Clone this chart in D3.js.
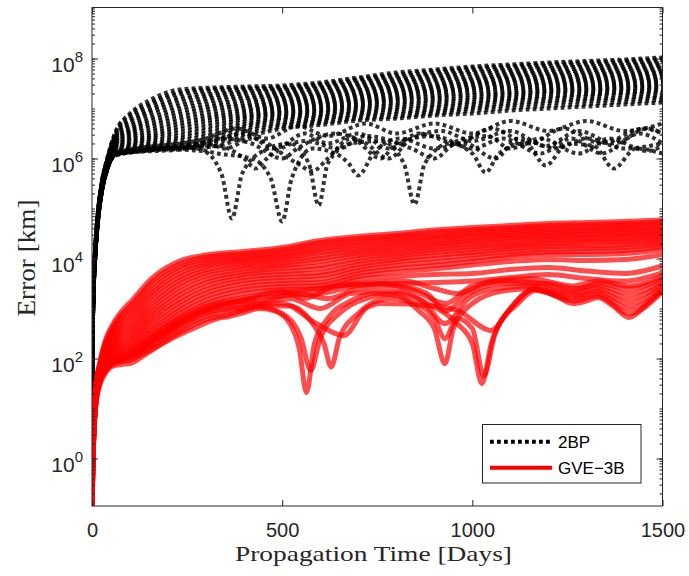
<!DOCTYPE html>
<html>
<head>
<meta charset="utf-8">
<script src="https://cdn.jsdelivr.net/npm/d3@7"></script>
<style>
body { margin: 0; background: #fff; }
</style>
</head>
<body>
<div class="holder"></div>
<script>
// every error value below is log10(error in km)

// 2BP: smooth curves sampled on a shared day grid
const bpDays = [0, 2, 5, 9, 15, 26, 40, 60, 100, 150, 230, 320, 410, 500, 600, 700, 800, 900, 1000, 1100, 1200, 1300, 1400, 1500]
const bp1   = [0.85, 2.7, 3.7, 4.3, 4.9, 5.55, 6.0, 6.5, 6.9, 7.16, 7.38, 7.42, 7.44, 7.46, 7.52, 7.62, 7.72, 7.78, 7.84, 7.88, 7.92, 7.95, 7.98, 8.02]
const bp1b  = [0.85, 2.69, 3.69, 4.29, 4.89, 5.54, 5.99, 6.48, 6.86, 7.1, 7.33, 7.39, 7.41, 7.43, 7.49, 7.59, 7.68, 7.75, 7.81, 7.85, 7.89, 7.92, 7.95, 7.99]
const bp2   = [0.85, 2.68, 3.68, 4.28, 4.88, 5.53, 5.98, 6.45, 6.8, 7.06, 7.29, 7.35, 7.38, 7.4, 7.46, 7.56, 7.64, 7.71, 7.77, 7.81, 7.85, 7.88, 7.91, 7.95]
const bp2b  = [0.85, 2.67, 3.67, 4.27, 4.87, 5.52, 5.97, 6.42, 6.75, 7.0, 7.23, 7.3, 7.34, 7.37, 7.42, 7.52, 7.6, 7.67, 7.73, 7.77, 7.81, 7.84, 7.87, 7.91]
const bp3   = [0.85, 2.66, 3.66, 4.26, 4.86, 5.51, 5.96, 6.4, 6.7, 6.95, 7.18, 7.26, 7.3, 7.33, 7.39, 7.48, 7.56, 7.63, 7.69, 7.73, 7.77, 7.8, 7.83, 7.87]
const bp3b  = [0.85, 2.65, 3.65, 4.25, 4.85, 5.5, 5.95, 6.37, 6.65, 6.9, 7.12, 7.21, 7.25, 7.29, 7.35, 7.44, 7.52, 7.59, 7.64, 7.69, 7.73, 7.76, 7.79, 7.83]
const bp4   = [0.85, 2.64, 3.64, 4.24, 4.84, 5.49, 5.94, 6.35, 6.6, 6.84, 7.06, 7.16, 7.21, 7.25, 7.31, 7.4, 7.48, 7.55, 7.6, 7.65, 7.69, 7.72, 7.75, 7.79]
const bp4b  = [0.85, 2.63, 3.63, 4.23, 4.83, 5.48, 5.93, 6.32, 6.56, 6.78, 7.0, 7.1, 7.16, 7.21, 7.27, 7.36, 7.44, 7.5, 7.56, 7.61, 7.65, 7.68, 7.71, 7.75]
const bp5   = [0.85, 2.62, 3.62, 4.22, 4.82, 5.47, 5.92, 6.3, 6.52, 6.73, 6.94, 7.05, 7.11, 7.17, 7.23, 7.32, 7.4, 7.46, 7.52, 7.57, 7.61, 7.64, 7.67, 7.71]
const bp5b  = [0.85, 2.61, 3.61, 4.21, 4.81, 5.46, 5.91, 6.28, 6.48, 6.67, 6.88, 7.0, 7.06, 7.13, 7.19, 7.28, 7.36, 7.42, 7.48, 7.53, 7.57, 7.6, 7.63, 7.67]
const bp6   = [0.85, 2.6, 3.6, 4.2, 4.8, 5.45, 5.9, 6.26, 6.44, 6.62, 6.82, 6.94, 7.02, 7.09, 7.15, 7.24, 7.32, 7.38, 7.44, 7.49, 7.53, 7.56, 7.59, 7.63]
const bp6b  = [0.85, 2.59, 3.59, 4.19, 4.79, 5.44, 5.89, 6.24, 6.4, 6.56, 6.76, 6.88, 6.97, 7.05, 7.11, 7.2, 7.28, 7.34, 7.4, 7.44, 7.49, 7.52, 7.55, 7.59]
const bp7   = [0.85, 2.58, 3.58, 4.18, 4.78, 5.43, 5.88, 6.22, 6.37, 6.51, 6.7, 6.83, 6.93, 7.01, 7.07, 7.16, 7.24, 7.3, 7.36, 7.4, 7.45, 7.48, 7.51, 7.55]
const bp7b  = [0.85, 2.57, 3.57, 4.17, 4.77, 5.42, 5.87, 6.2, 6.33, 6.46, 6.64, 6.78, 6.88, 6.97, 7.03, 7.12, 7.2, 7.25, 7.31, 7.35, 7.41, 7.44, 7.47, 7.51]
const bp8   = [0.85, 2.56, 3.56, 4.16, 4.76, 5.41, 5.86, 6.18, 6.3, 6.42, 6.58, 6.72, 6.84, 6.93, 6.99, 7.08, 7.16, 7.21, 7.27, 7.31, 7.37, 7.4, 7.43, 7.47]
const bp8b  = [0.85, 2.55, 3.55, 4.15, 4.75, 5.4, 5.85, 6.16, 6.27, 6.38, 6.52, 6.66, 6.8, 6.89, 6.95, 7.04, 7.11, 7.16, 7.22, 7.27, 7.33, 7.36, 7.39, 7.43]
const bp9   = [0.85, 2.54, 3.54, 4.14, 4.74, 5.39, 5.84, 6.15, 6.24, 6.34, 6.46, 6.6, 6.75, 6.85, 6.91, 7.0, 7.07, 7.12, 7.18, 7.23, 7.29, 7.32, 7.35, 7.39]
const bp9b  = [0.85, 2.53, 3.53, 4.13, 4.73, 5.38, 5.83, 6.13, 6.21, 6.3, 6.41, 6.54, 6.7, 6.81, 6.87, 6.96, 7.02, 7.07, 7.13, 7.19, 7.24, 7.28, 7.31, 7.35]
const bp10  = [0.85, 2.52, 3.52, 4.12, 4.72, 5.37, 5.82, 6.12, 6.19, 6.27, 6.36, 6.48, 6.66, 6.77, 6.83, 6.92, 6.98, 7.03, 7.09, 7.15, 7.2, 7.24, 7.27, 7.31]
const bp10b = [0.85, 2.51, 3.51, 4.11, 4.71, 5.36, 5.81, 6.1, 6.17, 6.24, 6.31, 6.42, 6.61, 6.72, 6.79, 6.88, 6.93, 6.98, 7.04, 7.1, 7.15, 7.19, 7.22, 7.26]
const bp11  = [0.85, 2.5, 3.5, 4.1, 4.7, 5.35, 5.8, 6.09, 6.15, 6.21, 6.27, 6.36, 6.56, 6.68, 6.75, 6.84, 6.89, 6.94, 7.0, 7.06, 7.11, 7.15, 7.18, 7.22]
const bp11b = [0.85, 2.49, 3.49, 4.09, 4.69, 5.34, 5.79, 6.07, 6.13, 6.18, 6.23, 6.3, 6.5, 6.64, 6.71, 6.8, 6.84, 6.9, 6.95, 7.01, 7.05, 7.09, 7.13, 7.17]
const bp12  = [0.85, 2.48, 3.48, 4.08, 4.68, 5.33, 5.78, 6.06, 6.12, 6.16, 6.2, 6.24, 6.44, 6.6, 6.67, 6.76, 6.8, 6.86, 6.9, 6.96, 7.0, 7.04, 7.08, 7.12]

// 2BP: lower curves with dips, [day, log10 km]
const bpK1 = [[0,0.85],[2,2.5],[5,3.5],[9,4.1],[15,4.7],[26,5.35],[40,5.78],[60,6.05],[100,6.12],[200,6.18],[290,6.15],[340,5.7],[368,4.8],[395,5.7],[450,6.15],[520,6.3],[570,5.9],[596,5.06],[620,5.9],[680,6.3],[760,6.35],[820,5.9],[848,5.08],[875,5.9],[940,6.3],[1000,6.1],[1035,5.72],[1070,6.1],[1140,6.3],[1193,5.86],[1250,6.3],[1320,6.25],[1372,5.8],[1430,6.2],[1500,6.1]]
const bpK2 = [[0,0.85],[2,2.5],[5,3.5],[9,4.1],[15,4.7],[26,5.35],[40,5.78],[60,6.07],[150,6.2],[250,6.22],[330,6.1],[420,6.0],[470,5.6],[500,4.74],[525,5.6],[580,6.2],[640,6.1],[675,5.9],[700,5.66],[740,6.1],[810,6.4],[900,6.2],[980,6.3],[1060,6.0],[1120,6.4],[1220,6.2],[1300,6.4],[1400,6.2],[1500,6.3]]
const bpK3 = [[0,0.85],[2,2.5],[5,3.5],[9,4.1],[15,4.7],[26,5.35],[40,5.78],[60,6.08],[200,6.22],[300,6.3],[350,6.2],[420,6.4],[540,5.9],[580,5.75],[620,6.0],[680,6.4],[760,6.0],[800,6.3],[900,6.45],[1000,6.2],[1080,6.4],[1180,6.1],[1260,6.4],[1340,6.1],[1440,6.5],[1500,6.3]]
const bpK4 = [[0,0.85],[2,2.5],[5,3.5],[9,4.1],[15,4.7],[26,5.35],[40,5.78],[60,6.09],[250,6.25],[320,6.35],[400,6.5],[480,6.2],[560,6.5],[620,6.3],[700,6.5],[780,6.2],[860,6.5],[960,6.3],[1050,6.6],[1150,6.3],[1240,6.6],[1340,6.3],[1450,6.6],[1500,6.5]]
const bpK5 = [[0,0.85],[2,2.5],[5,3.5],[9,4.1],[15,4.7],[26,5.35],[40,5.78],[60,6.1],[300,6.4],[380,6.6],[460,6.4],[540,6.65],[620,6.45],[720,6.7],[800,6.5],[900,6.7],[1000,6.5],[1100,6.75],[1200,6.55],[1300,6.75],[1400,6.55],[1500,6.7]]
const bpK6 = [[0,0.85],[2,2.5],[5,3.5],[9,4.1],[15,4.7],[26,5.35],[40,5.78],[60,6.08],[200,6.2],[330,6.25],[400,6.0],[430,5.8],[460,6.0],[560,6.35],[650,6.2],[720,6.45],[840,6.2],[900,6.0],[960,6.35],[1040,6.45],[1100,6.2],[1180,6.4],[1280,6.1],[1360,6.4],[1460,6.15],[1500,6.25]]
const bpK7 = [[0,0.85],[2,2.5],[5,3.5],[9,4.1],[15,4.7],[26,5.35],[40,5.78],[60,6.09],[250,6.2],[340,6.4],[420,6.3],[500,6.0],[540,6.2],[640,6.5],[720,6.3],[780,6.0],[840,6.4],[920,6.55],[1000,6.35],[1100,6.55],[1193,6.25],[1280,6.55],[1372,6.3],[1460,6.6],[1500,6.5]]

// GVE-3B: smooth curves sampled on a shared day grid
const gveDays = [0, 2, 5, 10, 20, 35, 50, 75, 100, 160, 230, 300, 400, 500, 600, 700, 800, 900, 1000, 1100, 1200, 1300, 1400, 1500]
const gve1   = [-1.2, 0.3, 1.0, 1.5, 1.9, 2.36, 2.62, 2.92, 3.12, 3.62, 3.95, 4.07, 4.14, 4.22, 4.36, 4.44, 4.5, 4.57, 4.62, 4.66, 4.7, 4.72, 4.74, 4.77]
const gve1b  = [-1.2, 0.28, 0.98, 1.48, 1.88, 2.32, 2.57, 2.86, 3.05, 3.55, 3.89, 4.03, 4.1, 4.18, 4.32, 4.4, 4.46, 4.53, 4.58, 4.62, 4.66, 4.68, 4.7, 4.73]
const gve2   = [-1.2, 0.25, 0.95, 1.46, 1.86, 2.28, 2.52, 2.8, 2.98, 3.48, 3.83, 3.98, 4.06, 4.13, 4.27, 4.35, 4.42, 4.48, 4.54, 4.58, 4.62, 4.64, 4.66, 4.69]
const gve2b  = [-1.2, 0.22, 0.92, 1.44, 1.84, 2.24, 2.47, 2.74, 2.91, 3.4, 3.77, 3.93, 4.02, 4.09, 4.22, 4.31, 4.38, 4.44, 4.5, 4.54, 4.58, 4.6, 4.62, 4.65]
const gve3   = [-1.2, 0.2, 0.9, 1.42, 1.82, 2.2, 2.42, 2.68, 2.84, 3.33, 3.7, 3.88, 3.98, 4.04, 4.17, 4.26, 4.33, 4.4, 4.46, 4.5, 4.54, 4.56, 4.58, 4.61]
const gve3b  = [-1.2, 0.18, 0.88, 1.4, 1.8, 2.16, 2.37, 2.62, 2.77, 3.26, 3.63, 3.83, 3.94, 4.0, 4.12, 4.21, 4.29, 4.36, 4.42, 4.46, 4.5, 4.52, 4.54, 4.57]
const gve4   = [-1.2, 0.15, 0.85, 1.38, 1.78, 2.12, 2.32, 2.56, 2.7, 3.18, 3.56, 3.77, 3.89, 3.95, 4.06, 4.16, 4.24, 4.31, 4.37, 4.42, 4.46, 4.48, 4.5, 4.53]
const gve4b  = [-1.2, 0.12, 0.82, 1.36, 1.76, 2.08, 2.27, 2.5, 2.63, 3.1, 3.49, 3.71, 3.84, 3.9, 4.0, 4.11, 4.19, 4.27, 4.33, 4.38, 4.42, 4.44, 4.46, 4.49]
const gve5   = [-1.2, 0.1, 0.8, 1.34, 1.74, 2.05, 2.23, 2.45, 2.57, 3.03, 3.42, 3.65, 3.79, 3.85, 3.94, 4.06, 4.14, 4.22, 4.28, 4.33, 4.38, 4.4, 4.42, 4.45]
const gve5b  = [-1.2, 0.08, 0.78, 1.32, 1.72, 2.01, 2.19, 2.39, 2.51, 2.95, 3.34, 3.58, 3.73, 3.8, 3.86, 4.0, 4.09, 4.17, 4.23, 4.28, 4.33, 4.35, 4.37, 4.41]
const gve6   = [-1.2, 0.05, 0.75, 1.3, 1.7, 1.98, 2.15, 2.34, 2.45, 2.88, 3.27, 3.52, 3.68, 3.74, 3.8, 3.94, 4.04, 4.12, 4.18, 4.24, 4.29, 4.31, 4.33, 4.37]
const gve6b  = [-1.2, 0.02, 0.72, 1.28, 1.68, 1.95, 2.11, 2.29, 2.39, 2.81, 3.19, 3.45, 3.62, 3.68, 3.72, 3.88, 3.98, 4.06, 4.12, 4.19, 4.24, 4.25, 4.27, 4.32]
const gve7   = [-1.2, 0.0, 0.7, 1.26, 1.66, 1.92, 2.07, 2.24, 2.34, 2.74, 3.12, 3.38, 3.56, 3.62, 3.66, 3.82, 3.93, 4.0, 4.07, 4.14, 4.19, 4.2, 4.22, 4.28]
const gve7b  = [-1.2, -0.02, 0.68, 1.24, 1.64, 1.9, 2.03, 2.19, 2.29, 2.67, 3.04, 3.31, 3.5, 3.56, 3.59, 3.76, 3.86, 3.93, 4.0, 4.08, 4.13, 4.14, 4.16, 4.23]
const gve8   = [-1.2, -0.05, 0.65, 1.22, 1.62, 1.87, 2.0, 2.15, 2.24, 2.6, 2.97, 3.24, 3.43, 3.5, 3.52, 3.7, 3.8, 3.86, 3.94, 4.03, 4.08, 4.08, 4.1, 4.18]
const gve8b  = [-1.2, -0.07, 0.62, 1.2, 1.6, 1.85, 1.97, 2.11, 2.19, 2.54, 2.9, 3.17, 3.37, 3.44, 3.46, 3.64, 3.73, 3.79, 3.87, 3.94, 3.98, 3.96, 3.98, 4.08]
const gve9   = [-1.2, -0.1, 0.6, 1.18, 1.58, 1.82, 1.94, 2.07, 2.14, 2.47, 2.83, 3.1, 3.3, 3.38, 3.4, 3.58, 3.64, 3.68, 3.7, 3.78, 3.82, 3.75, 3.7, 3.85]
const gve10  = [-1.2, -0.15, 0.55, 1.14, 1.54, 1.78, 1.89, 1.99, 2.05, 2.35, 2.7, 2.97, 3.17, 3.26, 3.3, 3.46, 3.5, 3.52, 3.55, 3.62, 3.68, 3.6, 3.55, 3.72]

// GVE-3B: lower curves with dips, [day, log10 km]
const gveD1 = [[0,-1.2],[2,-0.3],[5,0.45],[10,1.05],[20,1.45],[35,1.7],[50,1.83],[75,1.88],[100,1.9],[140,2.08],[200,2.36],[272,2.62],[330,2.8],[360,2.84],[400,2.92],[440,3.0],[480,2.95],[520,2.7],[545,2.2],[564,1.32],[585,2.3],[620,2.8],[680,3.15],[740,3.3],[803,3.26],[860,2.95],[900,2.6],[928,1.9],[950,2.6],[1000,3.1],[1080,3.35],[1162,3.4],[1220,3.25],[1265,3.1],[1300,3.15],[1330,3.22],[1370,3.05],[1412,2.82],[1460,3.1],[1500,3.36]]
const gveD2 = [[0,-1.2],[2,-0.25],[5,0.5],[10,1.08],[20,1.5],[35,1.74],[50,1.86],[75,1.93],[100,1.97],[160,2.2],[230,2.52],[300,2.78],[360,2.88],[400,2.97],[440,3.03],[500,2.9],[550,2.4],[575,1.76],[600,2.4],[650,2.9],[720,3.2],[803,3.3],[880,3.1],[960,2.7],[1000,2.3],[1025,1.5],[1050,2.3],[1100,3.0],[1162,3.38],[1265,3.15],[1330,3.25],[1412,2.9],[1500,3.34]]
const gveD3 = [[0,-1.2],[2,-0.2],[5,0.52],[10,1.1],[20,1.52],[35,1.76],[50,1.88],[75,1.96],[100,2.0],[160,2.26],[230,2.58],[300,2.84],[400,3.0],[440,3.05],[520,3.05],[580,2.7],[610,2.3],[629,1.83],[650,2.4],[700,2.9],[780,3.2],[850,3.1],[900,2.8],[928,2.4],[960,2.8],[1000,2.6],[1030,1.65],[1060,2.5],[1120,3.1],[1165,3.36],[1265,3.2],[1330,3.3],[1412,3.0],[1500,3.4]]
const gveD4 = [[0,-1.2],[2,-0.2],[5,0.54],[10,1.12],[20,1.53],[35,1.77],[50,1.9],[75,1.98],[100,2.03],[160,2.3],[230,2.64],[300,2.9],[400,3.04],[440,3.08],[500,3.1],[590,2.7],[662,2.46],[720,3.0],[760,3.1],[900,3.05],[962,2.96],[1049,2.56],[1100,3.0],[1165,3.4],[1265,3.25],[1330,3.35],[1412,3.1],[1500,3.45]]
const gveD5 = [[0,-1.2],[2,-0.2],[5,0.55],[10,1.13],[20,1.54],[35,1.78],[50,1.9],[75,1.99],[100,2.05],[160,2.34],[230,2.68],[300,2.94],[400,3.08],[440,3.1],[520,3.2],[600,3.0],[680,3.3],[800,3.35],[870,3.15],[928,2.7],[990,3.2],[1060,3.4],[1165,3.45],[1265,3.3],[1330,3.4],[1412,3.2],[1500,3.5]]
const gveD6 = [[0,-1.2],[2,-0.2],[5,0.55],[10,1.14],[20,1.55],[35,1.79],[50,1.91],[75,2.0],[100,2.06],[160,2.38],[230,2.72],[300,2.98],[400,3.14],[440,3.15],[540,3.3],[620,3.2],[700,3.4],[800,3.45],[880,3.3],[930,2.95],[990,3.3],[1080,3.5],[1200,3.5],[1265,3.4],[1330,3.45],[1412,3.3],[1500,3.55]]
const gveD7 = [[0,-1.2],[2,-0.2],[5,0.56],[10,1.15],[20,1.56],[35,1.8],[50,1.92],[75,2.02],[100,2.1],[160,2.42],[230,2.76],[300,3.02],[400,3.18],[500,3.35],[560,3.2],[640,3.45],[760,3.5],[850,3.35],[930,3.1],[1000,3.45],[1100,3.55],[1180,3.5],[1265,3.35],[1330,3.5],[1412,3.4],[1500,3.6]]
const gveD8 = [[0,-1.2],[2,-0.2],[5,0.56],[10,1.16],[20,1.57],[35,1.81],[50,1.93],[75,2.03],[100,2.12],[160,2.45],[230,2.8],[300,3.05],[400,3.22],[480,3.3],[600,3.4],[700,3.5],[820,3.55],[900,3.4],[960,3.3],[1050,3.55],[1150,3.6],[1265,3.45],[1330,3.55],[1412,3.45],[1500,3.65]]

const xTicks = [0, 500, 1000, 1500]
const yTickExps = [0, 2, 4, 6, 8]
const legendLabels = ["2BP", "GVE\u22123B"]

var width = 689,
    height = 576;

var axisColor = "#262626"
var pLeft = 92, pRight = 662.5, pTop = 7.5, pBottom = 506

var x = d3.scaleLinear().domain([0, 1500]).range([pLeft, pRight])
var y = d3.scaleLog().domain([Math.pow(10, -0.95), Math.pow(10, 9.02)]).range([pBottom, pTop])

var svg = d3.select(".holder").append("svg")
    .attr("width", width)
    .attr("height", height)
    .style("font-family", "'Liberation Sans', Arial, sans-serif")

svg.append("clipPath")
    .attr("id", "plotclip")
    .append("rect")
    .attr("x", pLeft)
    .attr("y", pTop)
    .attr("width", pRight - pLeft)
    .attr("height", pBottom - pTop)

var line = d3.line()
    .x(d => x(d[0]))
    .y(d => y(Math.pow(10, d[1])))
    .curve(d3.curveMonotoneX)

var bpCurves = [bp1, bp1b, bp2, bp2b, bp3, bp3b, bp4, bp4b, bp5, bp5b, bp6, bp6b,
                bp7, bp7b, bp8, bp8b, bp9, bp9b, bp10, bp10b, bp11, bp11b, bp12]
    .map(v => v.map((e, i) => [bpDays[i], e]))
    .concat([bpK1, bpK2, bpK3, bpK4, bpK5, bpK6, bpK7])

var gveCurves = [gve1, gve1b, gve2, gve2b, gve3, gve3b, gve4, gve4b, gve5, gve5b,
                 gve6, gve6b, gve7, gve7b, gve8, gve8b, gve9, gve10]
    .map(v => v.map((e, i) => [gveDays[i], e]))
    .concat([gveD1, gveD2, gveD3, gveD4, gveD5, gveD6, gveD7, gveD8])

var plot = svg.append("g").attr("clip-path", "url(#plotclip)")

// 2BP, dotted
plot.append("g")
    .selectAll("path")
    .data(bpCurves)
    .enter().append("path")
    .attr("d", line)
    .attr("fill", "none")
    .attr("stroke", "#000")
    .attr("stroke-opacity", 0.8)
    .attr("stroke-width", 4)
    .attr("stroke-dasharray", "3.8,3.2")
    .attr("stroke-dashoffset", (d, i) => (i * 1.3) % 7)

// GVE-3B, solid
plot.append("g")
    .selectAll("path")
    .data(gveCurves)
    .enter().append("path")
    .attr("d", line)
    .attr("fill", "none")
    .attr("stroke", "#ff0000")
    .attr("stroke-opacity", 0.7)
    .attr("stroke-width", 5)
    .attr("stroke-linejoin", "round")

// minor ticks for the log axis
var minorTicks = []
for (var k = -1; k <= 9; k++) {
    for (var m = 1; m <= 9; m++) {
        var v = m * Math.pow(10, k)
        if (v >= y.domain()[0] && v <= y.domain()[1]) minorTicks.push(v)
    }
}
var majorTicks = yTickExps.map(e => Math.pow(10, e))

function styleAxis(g) {
    g.select(".domain").remove()
    g.selectAll("line").attr("stroke", axisColor)
    g.selectAll("text").attr("fill", axisColor)
}

// left
svg.append("g").attr("transform", "translate(" + pLeft + ",0)")
    .call(d3.axisLeft(y).tickValues(minorTicks).tickSize(-3).tickFormat(""))
    .call(styleAxis)
var yAxisG = svg.append("g").attr("transform", "translate(" + pLeft + ",0)")
    .call(d3.axisLeft(y).tickValues(majorTicks).tickSize(-6).tickPadding(9).tickFormat(""))
    .call(styleAxis)
yAxisG.selectAll(".tick text")
    .attr("dy", "0.6em")
    .style("font-size", "21px")
    .each(function(d) {
        var t = d3.select(this)
        t.text("10")
        t.append("tspan")
            .attr("dy", "-0.62em")
            .style("font-size", "15px")
            .text(Math.round(Math.log10(d)))
    })

// right
svg.append("g").attr("transform", "translate(" + pRight + ",0)")
    .call(d3.axisRight(y).tickValues(minorTicks).tickSize(-3).tickFormat(""))
    .call(styleAxis)
svg.append("g").attr("transform", "translate(" + pRight + ",0)")
    .call(d3.axisRight(y).tickValues(majorTicks).tickSize(-6).tickFormat(""))
    .call(styleAxis)

// bottom
svg.append("g").attr("transform", "translate(0," + pBottom + ")")
    .call(d3.axisBottom(x).tickValues(xTicks).tickSize(-6).tickPadding(17).tickFormat(d3.format("d")))
    .call(styleAxis)
    .selectAll("text")
    .style("font-size", "20px")

// top
svg.append("g").attr("transform", "translate(0," + pTop + ")")
    .call(d3.axisTop(x).tickValues(xTicks).tickSize(-6).tickFormat(""))
    .call(styleAxis)

// box
svg.append("rect")
    .attr("x", pLeft)
    .attr("y", pTop)
    .attr("width", pRight - pLeft)
    .attr("height", pBottom - pTop)
    .attr("fill", "none")
    .attr("stroke", axisColor)
    .attr("stroke-width", 1)

// axis labels
svg.append("text")
    .attr("x", 373.5)
    .attr("y", 561)
    .attr("text-anchor", "middle")
    .attr("textLength", 277)
    .attr("lengthAdjust", "spacingAndGlyphs")
    .style("font-family", "'Liberation Serif', 'Times New Roman', serif")
    .style("font-size", "22px")
    .attr("fill", axisColor)
    .text("Propagation Time [Days]")

svg.append("text")
    .attr("transform", "translate(35,258) rotate(-90)")
    .attr("text-anchor", "middle")
    .attr("textLength", 117)
    .attr("lengthAdjust", "spacingAndGlyphs")
    .style("font-family", "'Liberation Serif', 'Times New Roman', serif")
    .style("font-size", "25px")
    .attr("fill", axisColor)
    .text("Error [km]")

// legend
var legend = svg.append("g")
legend.append("rect")
    .attr("x", 482.5)
    .attr("y", 424.5)
    .attr("width", 158.5)
    .attr("height", 58.5)
    .attr("fill", "#fff")
    .attr("stroke", axisColor)
    .attr("stroke-width", 1)

var legendStyles = [
    {color: "#000", dash: "3.8,3.2"},
    {color: "#ff0000", dash: null}
]
legend.selectAll("line.key")
    .data(legendLabels)
    .enter().append("line")
    .attr("class", "key")
    .attr("x1", 490)
    .attr("x2", 552)
    .attr("y1", (d, i) => 441.7 + i * 26)
    .attr("y2", (d, i) => 441.7 + i * 26)
    .attr("stroke", (d, i) => legendStyles[i].color)
    .attr("stroke-width", 4)
    .attr("stroke-dasharray", (d, i) => legendStyles[i].dash)

legend.selectAll("text.key")
    .data(legendLabels)
    .enter().append("text")
    .attr("class", "key")
    .attr("x", 558)
    .attr("y", (d, i) => 441.7 + i * 26 + 6)
    .style("font-size", "17px")
    .attr("fill", "#000")
    .text(d => d)
</script>
</body>
</html>
